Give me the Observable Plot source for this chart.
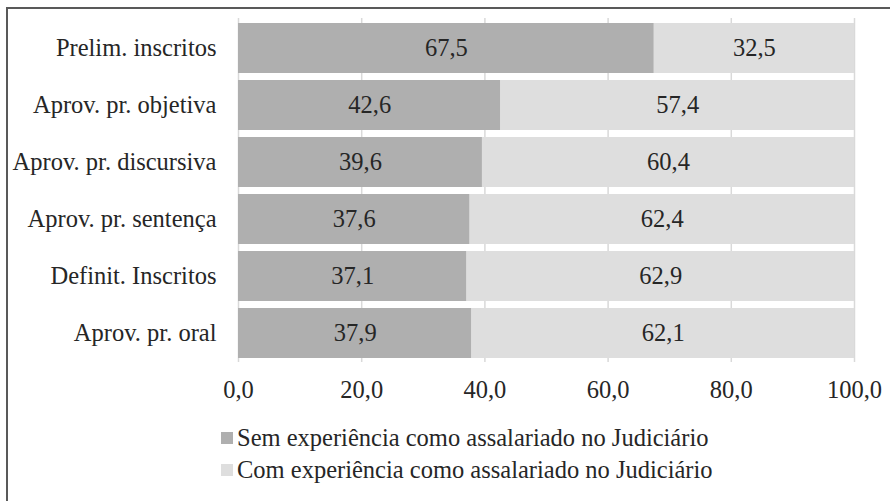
<!DOCTYPE html>
<html>
<head>
<meta charset="utf-8">
<script src="https://cdn.jsdelivr.net/npm/d3@7"></script>
<script src="https://cdn.jsdelivr.net/npm/@observablehq/plot@0.6"></script>
<style>
  html, body { margin: 0; padding: 0; background: #fff; overflow: hidden; }
  body { width: 890px; height: 501px; position: relative; font-family: 'Liberation Serif', 'Times New Roman', Times, serif; }
  #frame { position: absolute; left: 6px; top: 7px; width: 900px; height: 520px; border: 2px solid #595959; box-sizing: border-box; }
  #chart { position: absolute; left: 0; top: 0; }
  .legend { position: absolute; left: 221px; font-size: 24.5px; color: #262626; display: flex; align-items: center; white-space: nowrap; }
  .legend .sw { width: 12px; height: 12px; margin-right: 4px; display: inline-block; }
</style>
</head>
<body>
<div id="frame"></div>
<div id="chart"></div>
<div id="leg"></div>
<script>
const categories = ["Prelim. inscritos", "Aprov. pr. objetiva", "Aprov. pr. discursiva", "Aprov. pr. sentença", "Definit. Inscritos", "Aprov. pr. oral"];
const semValues = [67.5, 42.6, 39.6, 37.6, 37.1, 37.9];
const comValues = [32.5, 57.4, 60.4, 62.4, 62.9, 62.1];
const seriesNames = ["Sem experiência como assalariado no Judiciário", "Com experiência como assalariado no Judiciário"];
const seriesColors = ["#afafaf", "#dedede"];
const xTicks = [0, 20, 40, 60, 80, 100];

const fmt = v => v.toFixed(1).replace(".", ",");

const data = [];
categories.forEach((c, i) => data.push({cat: c, series: seriesNames[0], value: semValues[i]}));
categories.forEach((c, i) => data.push({cat: c, series: seriesNames[1], value: comValues[i]}));

const plot = Plot.plot({
  width: 890,
  height: 410,
  marginLeft: 238,
  marginRight: 36,
  marginTop: 18,
  marginBottom: 48,
  style: {fontFamily: "'Liberation Serif', 'Times New Roman', serif", fontSize: "24.5px", color: "#262626", background: "transparent"},
  x: {domain: [0, 100], ticks: xTicks, tickFormat: fmt, tickSize: 0, tickPadding: 18, label: null},
  y: {domain: categories, paddingInner: 0.13, paddingOuter: 0.07, tickSize: 0, tickPadding: 22, label: null},
  color: {domain: seriesNames, range: seriesColors},
  marks: [
    Plot.gridX(xTicks, {stroke: "#d9d9d9", strokeOpacity: 1, strokeWidth: 1.5}),
    Plot.barX(data, Plot.stackX({x: "value", y: "cat", fill: "series", order: null})),
    Plot.text(data, Plot.stackX({x: "value", y: "cat", z: "series", order: null, text: d => fmt(d.value), fill: "#262626", fontSize: 24.5}))
  ]
});
document.getElementById("chart").appendChild(plot);

const leg = document.getElementById("leg");
seriesNames.forEach((name, i) => {
  const div = document.createElement("div");
  div.className = "legend";
  div.style.top = (i === 0 ? 424 : 456) + "px";
  const sw = document.createElement("span");
  sw.className = "sw";
  sw.style.background = seriesColors[i];
  div.appendChild(sw);
  div.appendChild(document.createTextNode(name));
  leg.appendChild(div);
});
</script>
</body>
</html>
